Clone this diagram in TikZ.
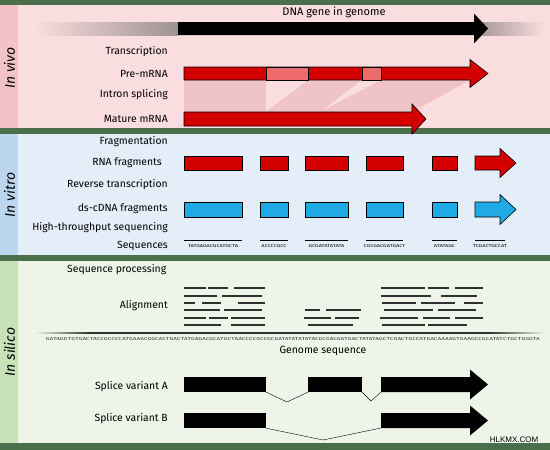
\documentclass[tikz,border=0pt]{standalone}
\usepackage{fontspec}
\setmainfont{Fira Sans}
\newfontfamily\markfont{Liberation Sans}
\usepackage{graphicx}
\usetikzlibrary{positioning}

\definecolor{band}{HTML}{4B6F4B}
\definecolor{vivobg}{HTML}{FADDDE}
\definecolor{vivoside}{HTML}{F2C3C6}
\definecolor{vitrobg}{HTML}{E4EEF8}
\definecolor{vitroside}{HTML}{BCD6EE}
\definecolor{silicobg}{HTML}{EEF5E8}
\definecolor{silicoside}{HTML}{C6E2B6}
\definecolor{rnared}{HTML}{D40000}
\definecolor{intronred}{HTML}{EE6B6B}
\definecolor{splicefill}{HTML}{F0C3C6}
\definecolor{cdnablue}{HTML}{1FAAE6}
\definecolor{dnagray}{HTML}{9E9292}
\definecolor{readgray}{HTML}{303030}

\tikzstyle{stage} = [anchor=east, inner sep=0pt, font=\fontsize{10.4}{12}\selectfont]
\tikzstyle{side} = [rotate=90, inner sep=0pt, font=\fontsize{14}{16}\selectfont\itshape]
\tikzstyle{exon} = [draw=black, line width=0.6pt]
\tikzstyle{rna} = [exon, fill=rnared]
\tikzstyle{intron} = [exon, fill=intronred]
\tikzstyle{cdna} = [exon, fill=cdnablue]
\tikzstyle{variant} = [fill=black]
\tikzstyle{read} = [line width=1.6pt, draw=readgray]
\tikzstyle{seqtext} = [inner sep=0pt, font=\fontsize{4.2}{5}\selectfont]

% style, start, head base, tip, y centre, half body, half head
\newcommand{\blockarrow}[7]{%
  \path[#1] (#2,#5-#6) -- (#3,#5-#6) -- (#3,#5-#7) -- (#4,#5)
    -- (#3,#5+#7) -- (#3,#5+#6) -- (#2,#5+#6) -- cycle;}

\begin{document}
\begin{tikzpicture}[x=1pt, y=-1pt]
\useasboundingbox (0,0) rectangle (550,450);
% panels
\fill[band] (0,0) rectangle (550,450);
\fill[vivobg] (0,5) rectangle (550,128);
\fill[vivoside] (0,5) rectangle (18,128);
\fill[vitrobg] (0,134) rectangle (550,255);
\fill[vitroside] (0,134) rectangle (18,255);
\fill[silicobg] (0,261) rectangle (550,443);
\fill[silicoside] (0,261) rectangle (18,443);

\node[side] (vivo) at (9.5,68) {In vivo};
\node[side] (vitro) at (9.5,195) {In vitro};
\node[side] (silico) at (9.5,352) {In silico};

% in vivo
\node[font=\fontsize{11}{13}\selectfont] (dna) at (334,12.5) {DNA gene in genome};
\shade[left color=vivobg, right color=dnagray] (35,22) rectangle (178,35);
\shade[left color=dnagray, right color=vivobg] (474,22) rectangle (544,35);
\blockarrow{fill=black}{178}{474}{488}{28.5}{6.5}{15}

\node[stage] (transcription) at (168,52) {Transcription};
\node[stage] (premrna) at (168,74) {Pre-mRNA};
\node[stage] (splicing) at (168,95) {Intron splicing};
\node[stage] (mature) at (168,119) {Mature mRNA};

\fill[splicefill] (184,80) -- (266,80) -- (266,112) -- (184,112) -- cycle;
\fill[splicefill] (308,80) -- (362,80) -- (320,112) -- (266,112) -- cycle;
\fill[splicefill] (381,80) -- (470,80) -- (412,112) -- (320,112) -- cycle;

\blockarrow{rna}{184}{470}{488}{73.5}{6.5}{14}
\path[intron] (266,67) rectangle (308,80);
\path[intron] (362,67) rectangle (381,80);
\blockarrow{rna}{184}{412}{426}{119}{7}{15}

% in vitro
\node[stage] (fragmentation) at (168,142) {Fragmentation};
\node[stage] (rnafrag) at (162,163) {RNA fragments};
\node[stage] (reverse) at (168,185) {Reverse transcription};
\node[stage] (cdnafrag) at (168,209) {ds-cDNA fragments};
\node[stage] (hts) at (168,228) {High-throughput sequencing};
\node[stage] (sequences) at (168,246) {Sequences};

\foreach \a/\b in {184/242, 260/288, 305/348, 366/403, 432/457} {
  \path[rna] (\a,156) rectangle (\b,170);
  \path[cdna] (\a,202) rectangle (\b,217);
}
\blockarrow{rna}{475}{500}{516}{163}{7}{14.5}
\blockarrow{cdna}{475}{500}{516}{209.5}{7.5}{15}

\foreach \a/\b/\s in {184/242/TATGAGACGCATGCTA, 260/288/ACCCCGCC,
    305/348/GCGATATATATA, 366/403/CGCGACGATGACT, 432/457/ATATAGC,
    475/505/TCGACTGCCAT} {
  \draw[line width=0.8pt] (\a,240) -- (\b,240);
  \node[seqtext] at ({(\a+\b)/2},246) {\scalebox{1.35}[1]{\s}};
}

% in silico
\node[anchor=west, inner sep=0pt, font=\fontsize{10.4}{12}\selectfont] (processing) at (67,270) {Sequence processing};
\node[stage] (alignment) at (168,306) {Alignment};

\foreach \a/\b/\y in {
    184/206/288, 208/228/288, 234/265/288,
    184/217/296, 222/262/296,
    184/195/303, 202/221/303, 238/265/303,
    184/220/310, 224/262/310, 305/320/310, 326/361/310,
    184/206/318, 209/228/318, 231/265/318, 304/331/318, 335/359/318,
    184/221/325, 231/265/325, 308/353/325,
    381/425/288, 428/449/288, 455/483/288,
    381/431/296, 441/477/296,
    382/416/303, 421/455/303, 464/483/303,
    384/433/310, 438/476/310,
    380/418/318, 423/450/318, 455/483/318,
    382/425/325, 428/467/325} {
  \draw[read] (\a,\y) -- (\b,\y);
}

\shade[left color=silicobg, right color=readgray] (35,332.2) rectangle (90,333.8);
\fill[readgray] (90,332.2) rectangle (490,333.8);
\shade[left color=readgray, right color=silicobg] (490,332.2) rectangle (545,333.8);
\node[inner sep=0pt] (genome) at (293,338.8) {\resizebox{494pt}{3pt}{\sffamily GATAGGTGTGACTACCGCCCCATGAAGCGGCACTGACTATGAGACGCATGCTAACCCCGCCGCGATATATATATACGCGACGATGACTATATAGCTCGACTGCCATGACAAAAGTGAAGCCGCATATCTGCTGGGTA}};
\node[font=\fontsize{10.4}{12}\selectfont] (genomelabel) at (323,351) {Genome sequence};

\node[stage] (varA) at (168,387) {Splice variant A};
\node[stage] (varB) at (168,419) {Splice variant B};

\node[variant, minimum width=82pt, minimum height=15pt, inner sep=0pt] (A1) at (225,384.5) {};
\node[variant, minimum width=54pt, minimum height=15pt, inner sep=0pt] (A2) at (335,384.5) {};
\blockarrow{variant}{381}{470}{488}{384.5}{7.5}{15}
\coordinate (A3) at (381,392);
\coordinate (vA1) at (287,402);
\coordinate (vA2) at (371,401);
\draw (A1.south east) -- (vA1) -- (A2.south west);
\draw (A2.south east) -- (vA2) -- (A3);

\node[variant, minimum width=82pt, minimum height=15pt, inner sep=0pt] (B1) at (225,420.5) {};
\blockarrow{variant}{381}{470}{488}{420.5}{7.5}{15}
\coordinate (B2) at (381,428);
\coordinate (vB) at (323,440);
\draw (B1.south east) -- (vB) -- (B2);

\node[font=\fontsize{8}{9}\markfont] (mark) at (514,440) {HLKMX.COM};
\end{tikzpicture}
\end{document}
